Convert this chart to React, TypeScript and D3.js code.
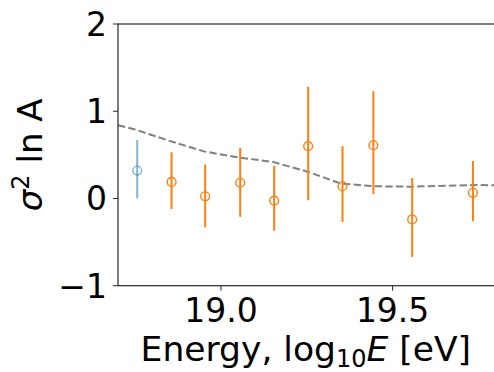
import React from "react";
import * as d3 from "d3";

// measured points (log10 E) and sigma^2 ln A with error bounds
const energy = [18.756, 18.856, 18.954, 19.056, 19.155, 19.254, 19.354, 19.444, 19.557, 19.734];
const sigma2 = [0.32, 0.19, 0.025, 0.18, -0.025, 0.6, 0.14, 0.61, -0.24, 0.065];
const upper = [0.67, 0.53, 0.39, 0.58, 0.375, 1.28, 0.6, 1.23, 0.235, 0.43];
const lower = [0.0, -0.12, -0.33, -0.21, -0.37, -0.02, -0.27, 0.05, -0.67, -0.26];
const group = ["low", "main", "main", "main", "main", "main", "main", "main", "main", "main"];

// dashed reference curve
const modelE = [18.7, 18.75, 18.85, 18.95, 19.05, 19.15, 19.25, 19.35, 19.45, 19.55, 19.75, 19.8];
const modelV = [0.84, 0.79, 0.66, 0.54, 0.47, 0.42, 0.31, 0.17, 0.14, 0.135, 0.155, 0.15];

const xTicks = [19.0, 19.5];
const yTicks = [-1, 0, 1, 2];

const W = 494;
const H = 372;
const m = { left: 118, top: 24, right: 495.6, bottom: 285.7 };
const font = "DejaVu Sans, sans-serif";
const axisColor = "#262626";

export default function App ()
{
    const x = d3.scaleLinear().domain( [ 18.7, 19.8 ] ).range( [ m.left, m.right ] );
    const y = d3.scaleLinear().domain( [ -1, 2 ] ).range( [ m.bottom, m.top ] );

    const line = d3.line<number>().x( ( d ) => x( modelE[ d ] ) ).y( ( d ) => y( modelV[ d ] ) );
    const colorOf = ( g: string ) => ( g === "low" ? "rgba(31,119,180,0.55)" : "#ff7f0e" );

    return (
        <svg width={ W } height={ H } style={ { position: "absolute", left: 0, top: 0, background: "#fff" } } fontFamily={ font }>
            <path d={ line( d3.range( modelE.length ) ) || "" } fill="none" stroke="#808080" strokeWidth={ 2 } strokeDasharray="7.4,3.2" />

            { energy.map( ( e, i ) => (
                <g key={ i } stroke={ colorOf( group[ i ] ) }>
                    <line x1={ x( e ) } x2={ x( e ) } y1={ y( upper[ i ] ) } y2={ y( lower[ i ] ) } strokeWidth={ 2 } />
                    <circle cx={ x( e ) } cy={ y( sigma2[ i ] ) } r={ 4.4 } fill="none" strokeWidth={ 1.4 } />
                </g>
            ) ) }

            {/* spines */ }
            <rect x={ m.left } y={ m.top } width={ m.right - m.left } height={ m.bottom - m.top } fill="none" stroke={ axisColor } strokeWidth={ 1.2 } />

            { yTicks.map( ( t ) => (
                <g key={ t }>
                    <line x1={ m.left - 5 } x2={ m.left } y1={ y( t ) } y2={ y( t ) } stroke={ axisColor } strokeWidth={ 1 } />
                    <text x={ m.left - 11 } y={ y( t ) } dy="0.36em" textAnchor="end" fontSize={ 33 } fill="#000">
                        { t < 0 ? `\u2212${ Math.abs( t ) }` : t }
                    </text>
                </g>
            ) ) }

            { xTicks.map( ( t ) => (
                <g key={ t }>
                    <line x1={ x( t ) } x2={ x( t ) } y1={ m.bottom } y2={ m.bottom + 5 } stroke={ axisColor } strokeWidth={ 1 } />
                    <text x={ x( t ) } y={ 322 } textAnchor="middle" fontSize={ 33 } fill="#000">{ t.toFixed( 1 ) }</text>
                </g>
            ) ) }

            <text x={ ( m.left + m.right ) / 2 - 1 } y={ 361 } textAnchor="middle" fontSize={ 34.5 } fill="#000">
                Energy, log<tspan fontSize={ 24 } dy={ 6 }>10</tspan><tspan dy={ -6 } fontStyle="italic">E</tspan> [eV]
            </text>

            <text transform={ `translate(42,${ ( m.top + m.bottom ) / 2 }) rotate(-90)` } textAnchor="middle" fontSize={ 34 } fill="#000">
                <tspan fontStyle="italic">σ</tspan><tspan fontSize={ 24 } dy={ -13 }>2</tspan><tspan dy={ 13 }> ln A</tspan>
            </text>
        </svg>
    );
}
